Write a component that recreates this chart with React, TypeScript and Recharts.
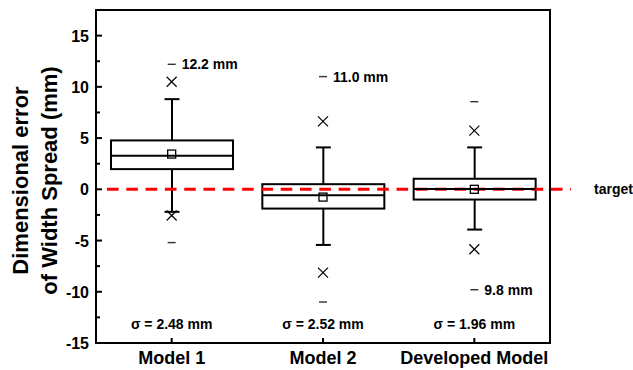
import React from "react";
import {
  ComposedChart, Bar, Scatter, XAxis, YAxis, ReferenceLine, ReferenceArea, Label,
} from "recharts";

const categories = ["Model 1", "Model 2", "Developed Model"];
const q1 = [1.97, -1.88, -1.0];
const q3 = [4.77, 0.5, 1.03];
const medians = [3.27, -0.57, 0.02];
const means = [3.44, -0.76, 0.0];
const whiskerLow = [-2.2, -5.43, -3.93];
const whiskerHigh = [8.8, 4.09, 4.09];
const pctLow = [-2.56, -8.13, -5.85];
const pctHigh = [10.5, 6.63, 5.72];
const minVals = [-5.2, -11.0, -9.8];
const maxVals = [12.2, 11.0, 8.55];
const maxNotes = ["12.2 mm", "11.0 mm", ""];
const minNotes = ["", "", "9.8 mm"];
const sigmas = ["σ = 2.48 mm", "σ = 2.52 mm", "σ = 1.96 mm"];
const yTicks = [-15, -12.5, -10, -7.5, -5, -2.5, 0, 2.5, 5, 7.5, 10, 12.5, 15];
const yDomain = [-15, 17.5];

const rows = categories.map((name, i) => ({
  name,
  box: [q1[i], q3[i]],
  upper: [q3[i], whiskerHigh[i]],
  lower: [whiskerLow[i], q1[i]],
  median: medians[i],
  mean: means[i],
  lo: pctLow[i],
  hi: pctHigh[i],
  min: minVals[i],
  max: maxVals[i],
  minNote: minNotes[i],
  maxNote: maxNotes[i],
}));

const font = "'Liberation Sans', Arial, sans-serif";
const BOX_W = 122;

function span(p: any) {
  const top = Math.min(p.y, p.y + p.height);
  const bottom = Math.max(p.y, p.y + p.height);
  return { cx: p.x + p.width / 2, top, bottom };
}

const BoxShape = (p: any) => {
  const { top, bottom } = span(p);
  return <rect x={p.x} y={top} width={p.width} height={bottom - top} fill="none" stroke="#000" strokeWidth={2} />;
};

const UpperWhisker = (p: any) => {
  const { cx, top, bottom } = span(p);
  return (
    <g stroke="#000" strokeWidth={2}>
      <line x1={cx} x2={cx} y1={top} y2={bottom} />
      <line x1={cx - 7.5} x2={cx + 7.5} y1={top} y2={top} />
    </g>
  );
};

const LowerWhisker = (p: any) => {
  const { cx, top, bottom } = span(p);
  return (
    <g stroke="#000" strokeWidth={2}>
      <line x1={cx} x2={cx} y1={top} y2={bottom} />
      <line x1={cx - 7.5} x2={cx + 7.5} y1={bottom} y2={bottom} />
    </g>
  );
};

const MedianShape = (p: any) => (
  <line x1={p.cx - BOX_W / 2} x2={p.cx + BOX_W / 2} y1={p.cy} y2={p.cy} stroke="#000" strokeWidth={2} />
);

const MeanShape = (p: any) => (
  <rect x={p.cx - 4} y={p.cy - 4} width={8} height={8} fill="none" stroke="#000" strokeWidth={1.3} />
);

const CrossShape = (p: any) => (
  <g stroke="#000" strokeWidth={1.2}>
    <line x1={p.cx - 5} x2={p.cx + 5} y1={p.cy - 5} y2={p.cy + 5} />
    <line x1={p.cx - 5} x2={p.cx + 5} y1={p.cy + 5} y2={p.cy - 5} />
  </g>
);

const dashShape = (key: "minNote" | "maxNote") => (p: any) => {
  const note = p.payload ? p.payload[key] : "";
  return (
    <g>
      <line x1={p.cx - 4} x2={p.cx + 4} y1={p.cy} y2={p.cy} stroke="#333" strokeWidth={1.4} />
      {note ? (
        <text x={p.cx + 10} y={p.cy + 5} fontFamily={font} fontWeight="bold" fontSize={14} fill="#000">
          {note}
        </text>
      ) : null}
    </g>
  );
};

const YTick = (p: any) => {
  const v = p.payload.value;
  const major = v % 5 === 0;
  const ax = p.x + 7;
  return (
    <g>
      <line x1={ax} x2={ax + (major ? 6 : 4)} y1={p.y} y2={p.y} stroke="#000" strokeWidth={2} />
      {major ? (
        <text x={p.x} y={p.y + 6} textAnchor="end" fontFamily={font} fontWeight="bold" fontSize={16} fill="#000">
          {v}
        </text>
      ) : null}
    </g>
  );
};

const XTick = (p: any) => {
  const i = p.index;
  return (
    <g>
      <line x1={p.x} x2={p.x} y1={p.y} y2={p.y - 5} stroke="#000" strokeWidth={2} />
      <text x={p.x} y={p.y - 14} textAnchor="middle" fontFamily={font} fontWeight="bold" fontSize={14} fill="#000">
        {sigmas[i]}
      </text>
      <text x={p.x} y={p.y + 21} textAnchor="middle" fontFamily={font} fontWeight="bold" fontSize={18} fill="#000">
        {p.payload.value}
      </text>
    </g>
  );
};

const YLabel = (p: any) => {
  const vb = p.viewBox;
  const cy = vb.y + vb.height / 2 + 4;
  const x1 = vb.x + 28;
  const x2 = vb.x + 57;
  const style = { fontFamily: font, fontWeight: "bold" as const, fontSize: 22 };
  return (
    <g fill="#000">
      <text x={x1} y={cy} textAnchor="middle" transform={`rotate(-90 ${x1} ${cy})`} style={style}>
        Dimensional error
      </text>
      <text x={x2} y={cy} textAnchor="middle" transform={`rotate(-90 ${x2} ${cy})`} style={style}>
        of Width Spread (mm)
      </text>
    </g>
  );
};

const TargetLine = (p: any) => (
  <g>
    <line x1={p.x1 + 11} x2={p.x2 + 21} y1={p.y1} y2={p.y2} stroke="#ff0000" strokeWidth={3} strokeDasharray="11.6 7.7" />
    <text x={p.x2 + 44} y={p.y1 + 5} fontFamily={font} fontWeight="bold" fontSize={14} fill="#000">
      target
    </text>
  </g>
);

export default function App() {
  return (
    <div style={{ position: "absolute", left: 0, top: 0, background: "#fff" }}>
      <ComposedChart width={633} height={370} data={rows} margin={{ top: 10, right: 83, bottom: 0, left: 0 }}>
        <XAxis
          dataKey="name"
          height={27}
          tickSize={0}
          tickMargin={0}
          interval={0}
          axisLine={{ stroke: "#000", strokeWidth: 2 }}
          tickLine={false}
          tick={<XTick />}
        />
        <XAxis xAxisId="box" dataKey="name" hide />
        <XAxis xAxisId="up" dataKey="name" hide />
        <XAxis xAxisId="low" dataKey="name" hide />
        <YAxis
          type="number"
          domain={yDomain}
          ticks={yTicks}
          interval={0}
          width={96}
          tickSize={0}
          tickMargin={7}
          tickLine={false}
          axisLine={{ stroke: "#000", strokeWidth: 2 }}
          tick={<YTick />}
        >
          <Label content={<YLabel />} />
        </YAxis>
        <ReferenceArea y1={yDomain[0]} y2={yDomain[1]} fill="none" stroke="#000" strokeWidth={2} ifOverflow="visible" />
        <Bar xAxisId="up" dataKey="upper" barSize={16} shape={<UpperWhisker />} isAnimationActive={false} />
        <Bar xAxisId="low" dataKey="lower" barSize={16} shape={<LowerWhisker />} isAnimationActive={false} />
        <Bar xAxisId="box" dataKey="box" barSize={BOX_W} shape={<BoxShape />} isAnimationActive={false} />
        <Scatter dataKey="median" shape={<MedianShape />} isAnimationActive={false} />
        <Scatter dataKey="mean" shape={<MeanShape />} isAnimationActive={false} />
        <Scatter dataKey="hi" shape={<CrossShape />} isAnimationActive={false} />
        <Scatter dataKey="lo" shape={<CrossShape />} isAnimationActive={false} />
        <Scatter dataKey="max" shape={dashShape("maxNote")} isAnimationActive={false} />
        <Scatter dataKey="min" shape={dashShape("minNote")} isAnimationActive={false} />
        <ReferenceLine y={0} ifOverflow="visible" shape={<TargetLine />} />
      </ComposedChart>
    </div>
  );
}
